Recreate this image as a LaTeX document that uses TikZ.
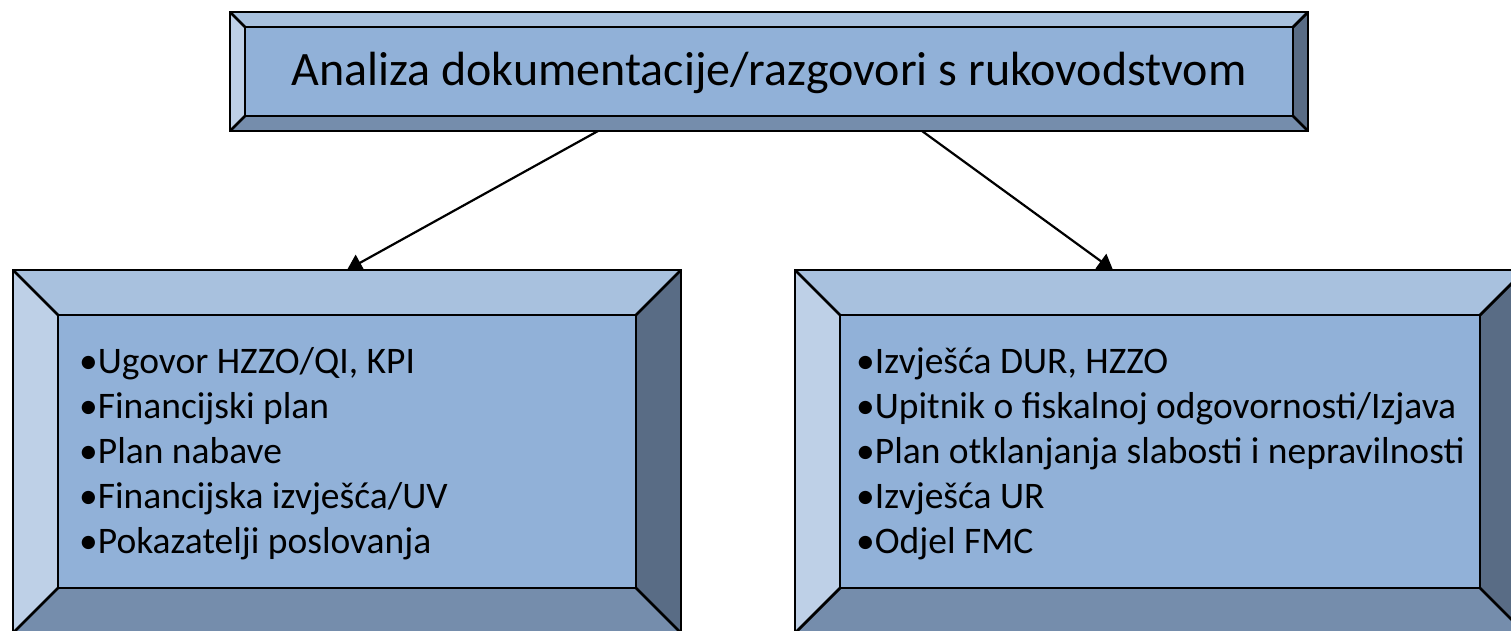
\documentclass[tikz,border=0pt]{standalone}
\usepackage{fontspec}
\setmainfont{Carlito}
\usetikzlibrary{arrows.meta}
\definecolor{facec}{RGB}{145,177,216}
\definecolor{topc}{RGB}{168,193,222}
\definecolor{leftc}{RGB}{190,208,231}
\definecolor{botc}{RGB}{117,141,172}
\definecolor{rightc}{RGB}{89,108,133}
\tikzstyle{rim}=[draw=black, line width=2.8pt, line join=miter]
\tikzstyle{edge}=[-{Triangle[length=15pt,width=18pt]}, line width=2.2pt]
\tikzstyle{title}=[inner sep=0pt, font=\fontsize{48}{58}\selectfont]
\tikzstyle{list}=[inner sep=0pt, anchor=north west, align=left, font=\fontsize{37.5}{45}\selectfont]
% beveled box: x1, y1, x2, y2, bevel
\newcommand{\bevelbox}[5]{%
  \fill[topc] (#1,#2) -- (#3,#2) -- ({#3-#5},{#2+#5}) -- ({#1+#5},{#2+#5}) -- cycle;
  \fill[leftc] (#1,#2) -- ({#1+#5},{#2+#5}) -- ({#1+#5},{#4-#5}) -- (#1,#4) -- cycle;
  \fill[botc] (#1,#4) -- ({#1+#5},{#4-#5}) -- ({#3-#5},{#4-#5}) -- (#3,#4) -- cycle;
  \fill[rightc] (#3,#2) -- (#3,#4) -- ({#3-#5},{#4-#5}) -- ({#3-#5},{#2+#5}) -- cycle;
  \fill[facec] ({#1+#5},{#2+#5}) rectangle ({#3-#5},{#4-#5});
  \draw[rim] (#1,#2) rectangle (#3,#4);
  \draw[rim] ({#1+#5},{#2+#5}) rectangle ({#3-#5},{#4-#5});
  \draw[rim] (#1,#2) -- ({#1+#5},{#2+#5});
  \draw[rim] (#3,#2) -- ({#3-#5},{#2+#5});
  \draw[rim] (#1,#4) -- ({#1+#5},{#4-#5});
  \draw[rim] (#3,#4) -- ({#3-#5},{#4-#5});
}
\begin{document}
\begin{tikzpicture}[x=1pt, y=-1pt]
				\useasboundingbox (0,0) rectangle (1511,630);
				\clip (0,0) rectangle (1511,630);
				
				%The boxes
				\bevelbox{230}{12}{1308}{131}{15}
				\bevelbox{13}{270}{681}{633}{45}
				\bevelbox{795}{270}{1525}{633}{45}
				
				%The texts
				\node[title] (top) at (769,73) {Analiza dokumentacije/razgovori s rukovodstvom};
				\node[list] (left) at (79,347) {•Ugovor HZZO/QI, KPI\\•Financijski plan\\•Plan nabave\\•Financijska izvješća/UV\\•Pokazatelji poslovanja};
				\node[list] (right) at (856,347) {•Izvješća DUR, HZZO\\•Upitnik o fiskalnoj odgovornosti/Izjava\\•Plan otklanjanja slabosti i nepravilnosti\\•Izvješća UR\\•Odjel FMC};
				
				%The arrows
				\coordinate (s1) at (598,131);
				\coordinate (s2) at (922,131);
				\coordinate (t1) at (347,270);
				\coordinate (t2) at (1113,270);
				\draw[edge] (s1) -- (t1);
				\draw[edge] (s2) -- (t2);
\end{tikzpicture}
\end{document}
